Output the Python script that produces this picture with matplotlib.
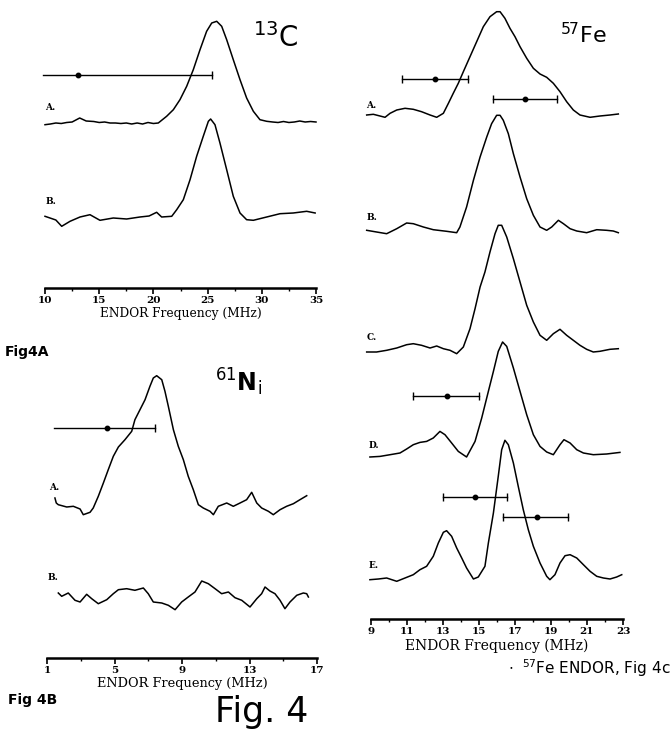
import matplotlib
matplotlib.use("Agg")
import matplotlib.pyplot as plt
import numpy as np

# ---------------- data: Fig 4A (13C) ----------------
c13_A_freq = [10.0, 10.5, 11.0, 11.5, 12.0, 12.5, 13.2, 13.8, 14.5, 15.0, 15.5, 16.0, 16.5, 17.0,
              17.5, 18.0, 18.5, 19.0, 19.5, 20.0, 20.45, 21.22, 21.84, 22.45, 23.07, 23.68, 24.3,
              24.91, 25.38, 25.84, 26.3, 26.76, 27.37, 27.99, 28.6, 29.22, 29.83, 30.45, 31.0,
              31.5, 32.0, 32.5, 33.0, 33.5, 34.0, 34.5, 35.0]
c13_A_int = [-1.7, -1, 0, -0.5, 0.5, 1, 5, 2, 1.5, 0.5, 1, 0, 0, -0.5,
             0, -1, 0, -1, 0.5, -0.5, 0, 6.7, 13.3, 23.3, 36.7, 53.3, 73.3,
             91.7, 100, 101.7, 96.7, 83.3, 63.3, 43.3, 25, 11.7, 3.3, 1.7, 1,
             0.5, 1.5, 0.5, 1, 2, 1, 1.5, 1]
c13_B_freq = [10.0, 11.0, 11.54, 12.31, 13.23, 14.15, 15.07, 16.3, 17.53, 18.76, 19.6, 20.3, 20.76,
              21.69, 22.15, 22.76, 23.38, 23.99, 24.6, 25.07, 25.28, 25.68, 26.14, 26.76, 27.37,
              27.99, 28.6, 29.22, 30.45, 31.68, 32.9, 34.14, 34.92]
c13_B_int = [1.7, -2, -8.3, -3.3, 1, 3.3, -2.3, 0, -1, 1, 2, 5.7, 1,
             1.7, 8.3, 18.3, 38.3, 61.7, 81.7, 96.7, 99, 93.3, 75, 48.3, 21.7,
             5, -1.7, -2.3, 1, 4.3, 5, 6.7, 5]
c13_err_center = 13.07
c13_err_left = 9.85
c13_err_right = 25.38

# ---------------- data: Fig 4B (61Ni) ----------------
ni_A_freq = [1.47, 1.55, 1.67, 2.17, 2.56, 2.96, 3.15, 3.55, 3.74, 4.04, 4.34, 4.63, 4.93, 5.23,
             5.62, 6.02, 6.21, 6.51, 6.81, 7.10, 7.30, 7.50, 7.80, 7.99, 8.19, 8.49, 8.78, 9.08,
             9.37, 9.67, 9.97, 10.26, 10.66, 10.86, 11.15, 11.65, 12.04, 12.44, 12.83, 13.13,
             13.43, 13.72, 14.12, 14.41, 14.81, 15.2, 15.6, 15.99, 16.39]
ni_A_int = [10, 5, 3.3, 1, 1.7, -1, -6.7, -4.3, 0, 11.7, 25, 38.3, 51.7, 61,
            68.3, 76.7, 88.3, 98.3, 108.3, 121.7, 130, 132.3, 128.3, 116.7, 101.7, 78.3, 61.7, 48.3,
            31.7, 18.3, 3.3, 0, -3.3, -6.7, 1.7, 5, 1.7, 5, 8.3, 15.7,
            5, 0, -3.3, -6.7, -1.7, 1.7, 4.3, 8.3, 12.3]
ni_B_freq = [1.67, 1.87, 2.26, 2.66, 2.96, 3.35, 3.65, 4.04, 4.54, 4.93, 5.23, 5.72, 6.21, 6.71,
             7.0, 7.3, 7.8, 8.19, 8.59, 8.98, 9.37, 9.77, 10.17, 10.56, 10.96, 11.35, 11.75,
             12.14, 12.54, 13.03, 13.43, 13.72, 13.92, 14.21, 14.51, 14.81, 15.1, 15.4, 15.8,
             16.19, 16.39, 16.49]
ni_B_int = [4, 0.7, 4, -3.3, -5, 2.7, -1.7, -6.7, -2.7, 3.3, 7.3, 8.3, 6.7, 9,
            3.3, -5, -6, -8.3, -12.7, -5, 0, 5, 16, 13.3, 8.3, 3.3, 5,
            -0.7, -3.3, -10, -1.7, 3.3, 10, 6, 3.3, -3.3, -11.7, -5, 1.7,
            4, 3.3, 0]
ni_err_center = 4.54
ni_err_left = 1.41
ni_err_right = 7.4

# ---------------- data: Fig 4C (57Fe) ----------------
fe_A_freq = [8.76, 9.13, 9.5, 9.78, 10.06, 10.43, 10.89, 11.35, 11.81, 12.28, 12.65, 13.02, 13.3,
             13.57, 13.85, 14.13, 14.5, 14.87, 15.24, 15.61, 15.98, 16.17, 16.44, 16.72, 17.0,
             17.28, 17.65, 18.02, 18.39, 18.76, 19.13, 19.5, 19.87, 20.24, 20.61, 21.17, 21.72,
             22.28, 22.74]
fe_A_int = [0, 0.7, -1, -2.3, 1.7, 5, 6.7, 5.7, 3.3, 0, -2.3, 1.7, 11.7,
            21.7, 31.7, 43.3, 58.3, 73.3, 88.3, 98.3, 103.3, 103.3, 96.7, 86.7, 78.3,
            68.3, 56.7, 46.7, 41, 37.7, 31.7, 23.3, 13.3, 5, 0, -2.3, -1,
            0, 1]
fe_B_freq = [8.76, 9.31, 9.87, 10.43, 10.98, 11.35, 11.91, 12.46, 13.2, 13.76, 13.94, 14.31, 14.69,
             15.06, 15.43, 15.7, 15.98, 16.17, 16.35, 16.63, 16.91, 17.28, 17.65, 18.02, 18.39,
             18.76, 19.04, 19.41, 19.69, 20.06, 20.43, 20.98, 21.54, 22.09, 22.46, 22.74]
fe_B_int = [1.7, 0, -1.7, 3.3, 9, 8.3, 5, 2.3, 0.7, -0.7, 5, 25, 51.7,
            75, 95, 108.3, 116.7, 116.7, 111.7, 98.3, 78.3, 55, 33.3, 16.7, 5,
            1.7, 5, 11.7, 8.3, 3.3, 1, -0.7, 2.3, 1.7, 1, -0.7]
fe_C_freq = [8.76, 9.31, 9.87, 10.43, 10.98, 11.35, 11.81, 12.28, 12.65, 13.02, 13.39, 13.76, 14.13,
             14.5, 14.78, 15.06, 15.33, 15.61, 15.89, 16.07, 16.26, 16.54, 16.91, 17.28, 17.65,
             18.02, 18.39, 18.76, 19.13, 19.5, 19.87, 20.24, 20.61, 20.98, 21.35, 21.72, 22.28,
             22.74]
fe_C_int = [0, 0, 1.7, 4, 7.3, 8.3, 6.7, 4, 6, 3.3, 1.7, -1.7, 5,
            23.3, 43.3, 65, 80, 100, 118.3, 126.7, 126.7, 115, 93.3, 70, 46.7,
            30, 16.7, 11.7, 18.3, 22.7, 16.7, 11.7, 6.7, 2.7, 0, 0.7, 2.7,
            3.3]
fe_D_freq = [8.94, 9.5, 10.06, 10.61, 10.98, 11.35, 11.72, 12.09, 12.46, 12.83, 13.11, 13.48, 13.85,
             14.31, 14.78, 15.15, 15.52, 15.8, 16.07, 16.31, 16.54, 16.91, 17.28, 17.65, 18.02,
             18.39, 18.76, 19.13, 19.5, 19.72, 20.06, 20.43, 20.8, 21.35, 22.09, 22.83]
fe_D_int = [0, 0.6, 2.3, 4, 8, 12.3, 14.6, 15.6, 19, 25.6, 22.3, 14, 5.6,
            0, 15.6, 39, 65.6, 85.6, 105.6, 115, 110.6, 89, 65.6, 42.3, 22.3,
            10.6, 5, 2.3, 12.3, 17.3, 14, 7.3, 4, 2.3, 3, 4.6]
fe_E_freq = [8.94, 9.41, 9.87, 10.43, 10.89, 11.35, 11.72, 12.09, 12.46, 12.74, 13.02, 13.2, 13.48,
             13.76, 14.04, 14.31, 14.69, 14.96, 15.33, 15.52, 15.8, 16.07, 16.26, 16.44, 16.63,
             16.91, 17.18, 17.46, 17.74, 18.02, 18.39, 18.76, 18.94, 19.22, 19.5, 19.78, 20.06,
             20.43, 20.8, 21.17, 21.54, 21.91, 22.28, 22.65, 22.93]
fe_E_int = [-0.7, 0, 1, -2.3, 1, 4.3, 9.3, 12.7, 22.7, 36, 46.7, 48.3, 42.7,
            31, 21, 11, 0, 2, 12.7, 36, 66, 102.7, 129.3, 138.7, 134.3,
            116, 92.7, 69.3, 49.3, 32.7, 16, 2.7, -0.7, 4.3, 16, 23.3, 24.3,
            21, 14.3, 7.7, 2.7, 1, 0, 2, 4.3]
fe_err_center = [12.56, 17.56, 13.2, 14.78, 18.2]
fe_err_left = [10.74, 15.76, 11.35, 12.98, 16.35]
fe_err_right = [14.37, 19.35, 15.0, 16.54, 19.96]

# ---------------- layout / style ----------------
W, H = 671, 736
fig = plt.figure(figsize=(W / 100, H / 100), dpi=100)
fig.patch.set_facecolor("white")

serif = ["DejaVu Serif"]
hand = ["DejaVu Sans"]
LW = 1.1


def make_axes(left_px, right_px, top_px, spine_px, xlim, major, minor, label_size):
    ax = fig.add_axes([left_px / W, 1 - spine_px / H, (right_px - left_px) / W,
                       (spine_px - top_px) / H])
    ax.set_xlim(*xlim)
    ax.set_ylim(0, spine_px - top_px)
    for s in ["top", "right", "left"]:
        ax.spines[s].set_visible(False)
    ax.spines["bottom"].set_linewidth(1.8)
    ax.set_yticks([])
    ax.set_xticks(major)
    ax.set_xticks(minor, minor=True)
    ax.tick_params(axis="x", which="major", direction="out", length=4, width=1.2, pad=1.5,
                   labelsize=7.5)
    ax.tick_params(axis="x", which="minor", direction="out", length=2.5, width=1.0)
    for lab in ax.get_xticklabels():
        lab.set_family(serif)
        lab.set_fontweight("bold")
    ax.set_xlabel("ENDOR Frequency (MHz)", family=serif, fontsize=label_size, labelpad=2)
    ax.patch.set_alpha(0)
    return ax


def trace(ax, f, v, offset):
    ax.plot(f, np.asarray(v) + offset, color="black", lw=LW, clip_on=False,
            solid_joinstyle="round")


def errbar(ax, c, lo, hi, y, left_cap=True):
    ax.plot([lo, hi], [y, y], color="black", lw=1.0, clip_on=False)
    ax.plot([hi], [y], marker="|", ms=6, mew=1.0, color="black", clip_on=False)
    if left_cap:
        ax.plot([lo], [y], marker="|", ms=6, mew=1.0, color="black", clip_on=False)
    ax.plot([c], [y], marker="o", ms=3.2, color="black", clip_on=False)


def lab(ax, x, y, s):
    ax.text(x, y, s, family=serif, fontsize=6.5, fontweight="bold", ha="left", va="center")


# Fig 4A
axA = make_axes(45, 316, 0, 288, (10, 35), np.arange(10, 36, 5), np.arange(12.5, 35, 5), 8.8)
trace(axA, c13_A_freq, c13_A_int, 165)
trace(axA, c13_B_freq, c13_B_int, 70)
errbar(axA, c13_err_center, c13_err_left, c13_err_right, 213, left_cap=False)
lab(axA, 10.0, 181, "A.")
lab(axA, 10.1, 86, "B.")

# Fig 4B
axB = make_axes(47, 317, 340, 658, (1, 17), np.arange(1, 18, 4), np.arange(3, 17, 4), 9.3)
trace(axB, ni_A_freq, ni_A_int, 150)
trace(axB, ni_B_freq, ni_B_int, 61)
errbar(axB, ni_err_center, ni_err_left, ni_err_right, 230, left_cap=False)
lab(axB, 1.15, 171, "A.")
lab(axB, 1.05, 81, "B.")

# Fig 4C
axC = make_axes(371, 623, 0, 619, (9, 23), np.arange(9, 24, 2), np.arange(10, 23, 2), 10)
fe_offsets = {"A": 504, "B": 387, "C": 267, "D": 162, "E": 40}
trace(axC, fe_A_freq, fe_A_int, fe_offsets["A"])
trace(axC, fe_B_freq, fe_B_int, fe_offsets["B"])
trace(axC, fe_C_freq, fe_C_int, fe_offsets["C"])
trace(axC, fe_D_freq, fe_D_int, fe_offsets["D"])
trace(axC, fe_E_freq, fe_E_int, fe_offsets["E"])
err_y = [540, 520, 223, 122, 102]
for c, lo, hi, yy in zip(fe_err_center, fe_err_left, fe_err_right, err_y):
    errbar(axC, c, lo, hi, yy)
lab(axC, 8.75, 513, "A.")
lab(axC, 8.75, 401, "B.")
lab(axC, 8.75, 281, "C.")
lab(axC, 8.85, 174, "D.")
lab(axC, 8.85, 54, "E.")


# handwritten annotations
def ftext(x, y, s, size, **kw):
    fig.text(x / W, 1 - y / H, s, fontsize=size, family=hand, ha="left", va="center", **kw)


ftext(253, 38, r"$^{13}$C", 20)
ftext(215, 382, r"$^{61}$N$_{\mathrm{i}}$", 17, fontweight="bold")
ftext(560, 35, r"$^{57}$Fe", 16)
ftext(5, 352, "Fig4A", 10, fontweight="bold")
ftext(8, 700, "Fig 4B", 10, fontweight="bold")
ftext(215, 712, "Fig. 4", 25)
ftext(508, 668, r"$\cdot$  $^{57}$Fe ENDOR, Fig 4c", 11)

fig.savefig("out.png", dpi=100, facecolor="white")
